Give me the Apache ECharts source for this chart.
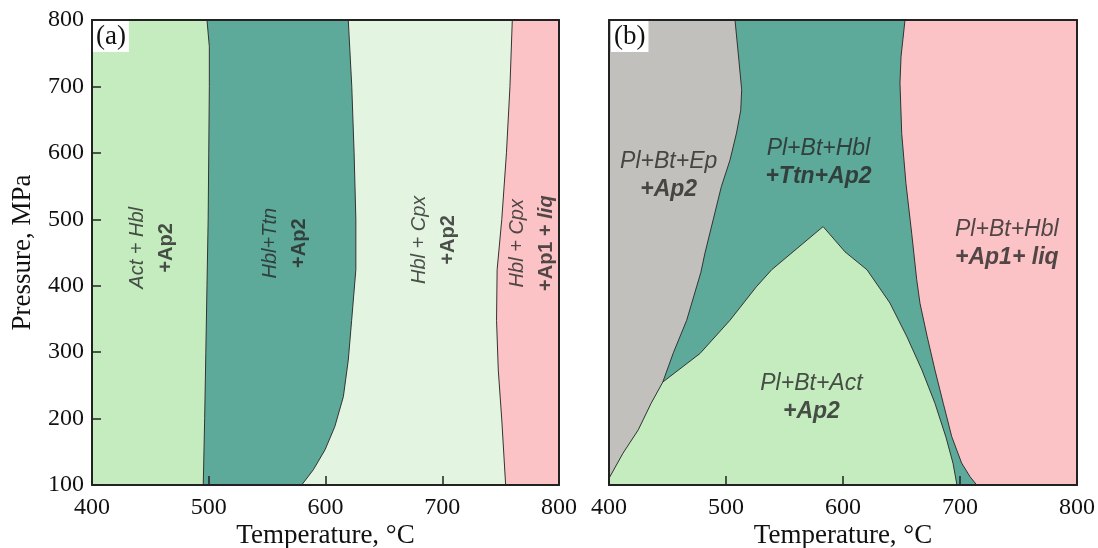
<!DOCTYPE html>
<html>
<head>
<meta charset="utf-8">
<title>P-T diagram</title>
<script src="https://cdn.jsdelivr.net/npm/echarts@6.0.0/dist/echarts.min.js"></script>
<style>
  html, body { margin: 0; padding: 0; background: #fff; }
  #chart { width: 1098px; height: 548px; }
</style>
</head>
<body>
<div id="chart"></div>
<script>
  // axes: temperature (°C) and pressure (MPa)
  const tempMin = 400
  const tempMax = 800
  const pressMin = 100
  const pressMax = 800
  const tickStep = 100

  // (a) phase boundaries, [T, P], top -> bottom
  const bndA1 = [[498.5, 800], [500.5, 760], [500.5, 700], [500, 600], [499.5, 500], [498.5, 400], [497.5, 300], [496.5, 200], [495.3, 100]]
  const bndA2 = [[619.5, 800], [622.5, 700], [624.5, 600], [626, 500], [626, 424], [622.4, 348], [619.5, 288], [615.3, 233], [608, 188], [599.6, 153], [589.6, 123], [579.6, 100]]
  const bndA3 = [[760, 800], [758, 700], [755, 600], [751, 500], [747, 424], [746.5, 348], [748, 273], [751, 198], [754.3, 100]]

  // (b) phase boundaries
  const bndB1Upper = [[507.7, 800], [511, 740], [513.4, 695], [512.6, 664], [509, 630], [503.4, 589], [496, 549], [489, 499], [482, 449], [478.5, 420], [466.4, 348], [455, 299], [446, 255]]
  const bndB1Lower = [[446, 255], [436, 223], [425, 183], [412, 148], [400, 110]]
  const bndB2 = [[446, 255], [477.8, 298], [503.4, 348], [526, 398.5], [539, 424], [560, 455], [583, 489]]
  const bndB3 = [[583, 489], [601.7, 451], [620.5, 424], [640.1, 374], [654.7, 323], [667.5, 273], [678.6, 223], [688, 172], [694, 133], [697.4, 100]]
  const bndB4 = [[653, 800], [649.6, 745], [648.7, 705], [650.2, 629], [653.8, 554], [658.7, 479], [663, 409], [665.8, 373.5], [672, 323], [678.6, 273], [685.7, 223], [692.9, 173], [701.4, 133], [708.6, 112.5], [714.3, 100]]

  // field labels
  const labelPosA = [[451, 457], [565, 464], [693, 469], [777, 464]]
  const labelTextA = [['Act + Hbl', '+Ap2'], ['Hbl+Ttn', '+Ap2'], ['Hbl + Cpx', '+Ap2'], ['Hbl + Cpx', '+Ap1 + liq']]
  const labelPosB = [[451, 565], [579, 585], [740, 464], [573, 232]]
  const labelTextB = [['Pl+Bt+Ep', '+Ap2'], ['Pl+Bt+Hbl', '+Ttn+Ap2'], ['Pl+Bt+Hbl', '+Ap1+ liq'], ['Pl+Bt+Act', '+Ap2']]

  const colors = {
    green: '#c4ecbf',
    teal: '#5eaa9a',
    pale: '#e3f4e1',
    pink: '#fcc3c6',
    gray: '#c1c0bc',
    line: '#333',
    text: '#262626'
  }

  const serif = '"Liberation Serif", "DejaVu Serif", serif'
  const sans = '"Liberation Sans", Arial, sans-serif'

  const corners = {
    right: [[tempMax, pressMin], [tempMax, pressMax]],
    box: [[tempMin, pressMin], [tempMin, pressMax], [tempMax, pressMax], [tempMax, pressMin]]
  }

  function areaSeries(idx, pts, color) {
    return {
      type: 'custom',
      xAxisIndex: idx,
      yAxisIndex: idx,
      silent: true,
      z: 1,
      data: [pts[0]],
      renderItem: function(params, api) {
        return {
          type: 'polygon',
          shape: { points: pts.map(p => api.coord(p)) },
          style: { fill: color }
        }
      }
    }
  }

  function boundSeries(idx, pts) {
    return {
      type: 'line',
      xAxisIndex: idx,
      yAxisIndex: idx,
      data: pts,
      showSymbol: false,
      symbol: 'none',
      silent: true,
      z: 3,
      lineStyle: { color: colors.line, width: 1 }
    }
  }

  function labelSeries(idx, pos, texts, fmt, size, lh, rotate) {
    return {
      type: 'scatter',
      xAxisIndex: idx,
      yAxisIndex: idx,
      symbolSize: 0,
      silent: true,
      z: 5,
      data: pos,
      label: {
        show: true,
        position: 'inside',
        rotate: rotate,
        align: 'center',
        verticalAlign: 'middle',
        formatter: params => fmt(texts[params.dataIndex]),
        rich: {
          i: { fontFamily: sans, fontSize: size, fontStyle: 'italic', color: colors.text, lineHeight: lh },
          b: { fontFamily: sans, fontSize: size, fontWeight: 'bold', color: colors.text, lineHeight: lh },
          bi: { fontFamily: sans, fontSize: size, fontWeight: 'bold', fontStyle: 'italic', color: colors.text, lineHeight: lh }
        }
      }
    }
  }

  function bottomAxis(idx) {
    return {
      type: 'value',
      gridIndex: idx,
      min: tempMin,
      max: tempMax,
      interval: tickStep,
      z: 10,
      name: 'Temperature, °C',
      nameLocation: 'middle',
      nameGap: 37,
      nameMoveOverlap: false,
      nameTextStyle: { fontFamily: serif, fontSize: 27, color: '#111' },
      axisLine: { lineStyle: { color: '#222', width: 2 } },
      axisTick: { inside: true, length: 9, lineStyle: { color: '#222', width: 1.5 } },
      axisLabel: { fontFamily: serif, fontSize: 24, color: '#111', margin: 11 },
      splitLine: { show: false }
    }
  }

  // plain line used for the top/right frame of each panel
  function frameAxis(idx, pos, isX) {
    return {
      type: 'value',
      gridIndex: idx,
      position: pos,
      z: 10,
      min: isX ? tempMin : pressMin,
      max: isX ? tempMax : pressMax,
      axisLine: { show: true, lineStyle: { color: '#222', width: 2 } },
      axisTick: { show: false },
      axisLabel: { show: false },
      splitLine: { show: false }
    }
  }

  let chart = echarts.init(document.getElementById('chart'))

  chart.setOption({
    backgroundColor: '#fff',
    animation: false,
    title: [
      {
        text: '(a)', left: 93, top: 21, padding: [2, 3, 2, 3], backgroundColor: '#fff',
        textStyle: { fontFamily: serif, fontSize: 27, fontWeight: 'normal', color: '#111' }
      },
      {
        text: '(b)', left: 611, top: 21, padding: [2, 3, 2, 3], backgroundColor: '#fff',
        textStyle: { fontFamily: serif, fontSize: 27, fontWeight: 'normal', color: '#111' }
      }
    ],
    grid: [
      { left: 92, right: 539, top: 20, bottom: 63, outerBoundsMode: 'none', containLabel: false },
      { left: 609, right: 21, top: 20, bottom: 63, outerBoundsMode: 'none', containLabel: false }
    ],
    xAxis: [
      bottomAxis(0),
      bottomAxis(1),
      frameAxis(0, 'top', true),
      frameAxis(1, 'top', true)
    ],
    yAxis: [
      {
        type: 'value',
        gridIndex: 0,
        min: pressMin,
        max: pressMax,
        interval: tickStep,
        z: 10,
        name: 'Pressure, MPa',
        nameLocation: 'middle',
        nameGap: 56,
        nameMoveOverlap: false,
        nameTextStyle: { fontFamily: serif, fontSize: 27, color: '#111' },
        axisLine: { lineStyle: { color: '#222', width: 2 } },
        axisTick: { inside: true, length: 9, lineStyle: { color: '#222', width: 1.5 } },
        axisLabel: { fontFamily: serif, fontSize: 24, color: '#111', margin: 8 },
        splitLine: { show: false }
      },
      frameAxis(1, 'left', false),
      frameAxis(0, 'right', false),
      frameAxis(1, 'right', false)
    ],
    series: [
      // (a) fields, painted left to right
      areaSeries(0, corners.box, colors.green),
      areaSeries(0, bndA1.concat(corners.right), colors.teal),
      areaSeries(0, bndA2.concat(corners.right), colors.pale),
      areaSeries(0, bndA3.concat(corners.right), colors.pink),
      boundSeries(0, bndA1),
      boundSeries(0, bndA2),
      boundSeries(0, bndA3),

      // (b) fields
      areaSeries(1, corners.box, colors.teal),
      areaSeries(1, bndB1Upper.concat(bndB1Lower.slice(1), [[tempMin, pressMax]]), colors.gray),
      areaSeries(1, [[tempMin, pressMin]].concat(bndB1Lower.slice().reverse(), bndB2.slice(1), bndB3.slice(1)), colors.green),
      areaSeries(1, bndB4.concat(corners.right), colors.pink),
      boundSeries(1, bndB1Upper.concat(bndB1Lower.slice(1))),
      boundSeries(1, bndB2),
      boundSeries(1, bndB3),
      boundSeries(1, bndB4),

      labelSeries(0, labelPosA, labelTextA, t => '{i|' + t[0] + '}\n{b|' + t[1].replace('liq', '}{bi|liq') + '}', 20, 29, 90),
      labelSeries(1, labelPosB, labelTextB, t => '{i|' + t[0] + '}\n{bi|' + t[1] + '}', 23, 28, 0)
    ]
  })
</script>
</body>
</html>
